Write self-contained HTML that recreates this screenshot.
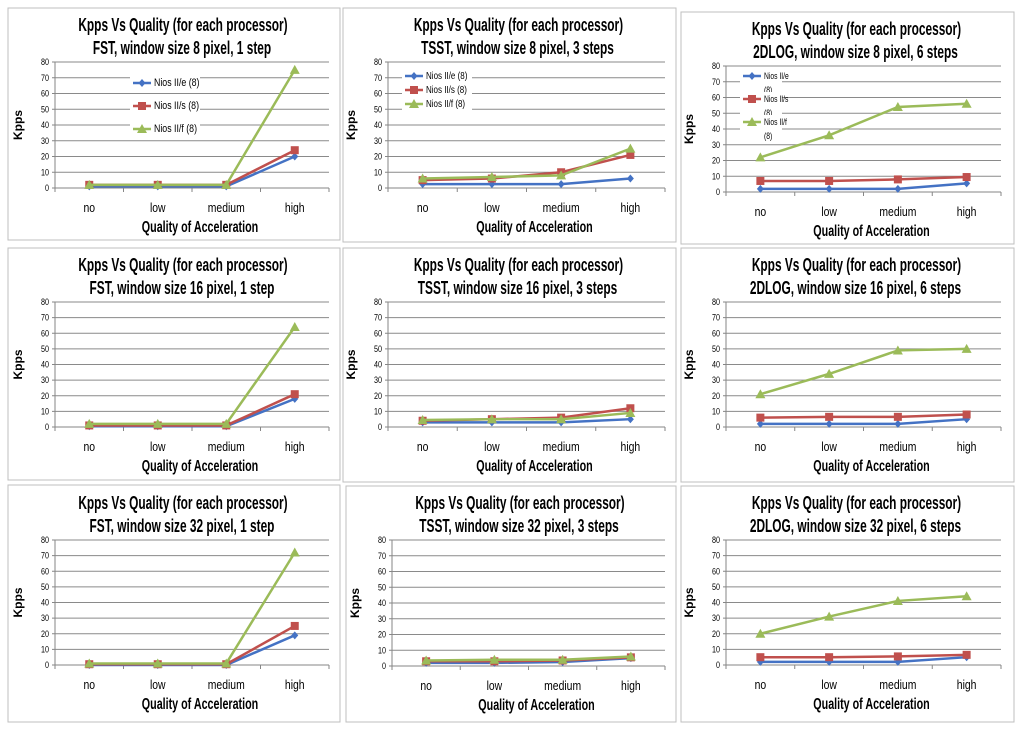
<!DOCTYPE html>
<html><head><meta charset="utf-8"><style>
body{margin:0;background:#fff;width:1024px;height:729px;overflow:hidden}
svg text{font-family:"Liberation Sans",sans-serif}
</style></head><body>
<svg id="c" width="1024" height="729"></svg>
<script>
const categories=["no","low","medium","high"];
const yTicks=[0,10,20,30,40,50,60,70,80];
const seriesNames=["Nios II/e (8)","Nios II/s (8)","Nios II/f (8)"];
const titles2=["FST, window size 8 pixel, 1 step","TSST, window size 8 pixel, 3 steps","2DLOG, window size 8 pixel, 6 steps",
"FST, window size 16 pixel, 1 step","TSST, window size 16 pixel, 3 steps","2DLOG, window size 16 pixel, 6 steps",
"FST, window size 32 pixel, 1 step","TSST, window size 32 pixel, 3 steps","2DLOG, window size 32 pixel, 6 steps"];
const eVals=[[1,1,1,20],[2.5,2.5,2.5,6],[2,2,2,5.5],[0.5,0.5,0.5,18],[3,3,3,5],[2,2,2,5],[0,0,0,19],[2,2,2.5,5],[2,2,2,5]];
const sVals=[[2,2,2,24],[5,6,10,21],[7,7,8,9.5],[1,1,1,21],[4,5,6,12],[6,6.5,6.5,8],[0.5,0.5,0.5,25],[3,3,3.5,5.5],[5,5,5.5,6.5]];
const fVals=[[2,2,2,75],[6,7,8,25],[22,36,54,56],[2,2,2,64],[4.5,5,5,9],[21,34,49,50],[1,1,1,72],[3.5,4,4,6],[20,31,41,44]];
const colors=["#4472C4","#C0504D","#9BBB59"];
const layout=[
[8,8,332,232,55,329,62,188],[343,8,333,234,388,665,62,188],[681,12,333,232,726,1001,66,192],
[8,248,332,232,55,329,302,427],[343,248,333,234,388,665,302,427],[681,248,333,234,726,1001,302,427],
[8,485,332,237,55,329,540,665],[346,486,330,236,392,665,540,666],[681,486,333,236,726,1001,540,665]];
const svg=document.getElementById('c');
const NS="http://www.w3.org/2000/svg";
function mk(t,a,p){const e=document.createElementNS(NS,t);for(const k in a)e.setAttribute(k,a[k]);(p||svg).appendChild(e);return e;}
function squeeze(el,f){const w=el.getComputedTextLength();el.setAttribute('textLength',(w*f).toFixed(1));el.setAttribute('lengthAdjust','spacingAndGlyphs');}
function marker(g,i,x,y){
 if(i===0){return mk('polygon',{points:`${x},${y-4} ${x+3.5},${y} ${x},${y+4} ${x-3.5},${y}`,fill:colors[0]},g);}
 if(i===1){return mk('rect',{x:x-4,y:y-4,width:8,height:8,fill:colors[1]},g);}
 return mk('polygon',{points:`${x},${y-5} ${x+5},${y+4} ${x-5},${y+4}`,fill:colors[2]},g);
}
layout.forEach((L,p)=>{
 const [bx,by,bw,bh,l,r,t,b]=L;
 const g=mk('g',{});
 
 
 mk('rect',{x:bx,y:by,width:bw,height:bh,fill:'#fff',stroke:'#bfbfbf','stroke-width':1},g);
 const yS=v=>b-(v/80)*(b-t);
 const step=(r-l)/categories.length;
 const xS=i=>l+step*(i+0.5);
 yTicks.forEach(v=>{
  if(v>0)mk('line',{x1:l,x2:r,y1:yS(v),y2:yS(v),stroke:'#8a8a8a','stroke-width':1},g);
  const tx=mk('text',{x:l-6,y:yS(v)+3,'font-size':9,'text-anchor':'end',fill:'#000'},g);tx.textContent=v;
  
  
  squeeze(tx,0.8);
  mk('line',{x1:l-3,x2:l,y1:yS(v),y2:yS(v),stroke:'#868686'},g);
 });
 mk('line',{x1:l,x2:l,y1:t,y2:b,stroke:'#868686'},g);
 mk('line',{x1:l,x2:r,y1:b,y2:b,stroke:'#868686'},g);
 for(let i=0;i<=categories.length;i++)mk('line',{x1:l+step*i,x2:l+step*i,y1:b,y2:b+4,stroke:'#868686'},g);
 categories.forEach((c,i)=>{const tx=mk('text',{x:xS(i),y:b+24,'font-size':13,'text-anchor':'middle'},g);tx.textContent=c;
  
  
  squeeze(tx,0.8);});
 const xt=mk('text',{x:(l+r)/2+8,y:b+44,'font-size':16,'font-weight':'bold','text-anchor':'middle'},g);xt.textContent="Quality of Acceleration";
 
 
 squeeze(xt,0.67);
 const yt=mk('text',{x:0,y:0,'font-size':12,'font-weight':'bold','text-anchor':'middle',transform:`translate(${l-33},${(t+b)/2}) rotate(-90)`},g);yt.textContent="Kpps";
 
 
 const cx=bx+bw/2+9;
 const t1=mk('text',{x:cx,y:t-31,'font-size':18,'font-weight':'bold','text-anchor':'middle'},g);t1.textContent="Kpps Vs Quality (for each processor)";
 
 
 squeeze(t1,0.66);
 const t2=mk('text',{x:cx-1,y:t-8,'font-size':18,'font-weight':'bold','text-anchor':'middle'},g);t2.textContent=titles2[p];
 
 
 squeeze(t2,0.66);
 [eVals[p],sVals[p],fVals[p]].forEach((vals,si)=>{
  const pts=vals.map((v,i)=>xS(i)+','+yS(v)).join(' ');
  const pl=mk('polyline',{points:pts,fill:'none',stroke:colors[si],'stroke-width':2.5},g);
  
  
  vals.forEach((v,i)=>{const m=marker(g,si,xS(i),yS(v));
   
   });
 });
 if(p<3){
  seriesNames.forEach((n,si)=>{
   let lx,ly;
   if(p===0){lx=133;ly=83+si*23;}
   else if(p===1){lx=405;ly=76+si*14;}
   else {lx=743;ly=76+si*23;}
   const lg=mk('g',{},g);
   
   
   mk('rect',{x:lx-3,y:ly-7,width:p===2?42:70,height:p===2?24:13,fill:'#fff'},lg);
   mk('line',{x1:lx,x2:lx+18,y1:ly,y2:ly,stroke:colors[si],'stroke-width':2.5},lg);
   marker(lg,si,lx+9,ly);
   if(p===2){const parts=n.split(' (');
    const a=mk('text',{x:lx+21,y:ly+3,'font-size':9},lg);a.textContent=parts[0];squeeze(a,0.75);
    const c=mk('text',{x:lx+21,y:ly+17,'font-size':9},lg);c.textContent='('+parts[1];squeeze(c,0.75);}
   else{const a=mk('text',{x:lx+21,y:ly+3,'font-size':p===0?11:10},lg);a.textContent=n;squeeze(a,0.8);}
  });
 }
});
</script>
</body></html>
